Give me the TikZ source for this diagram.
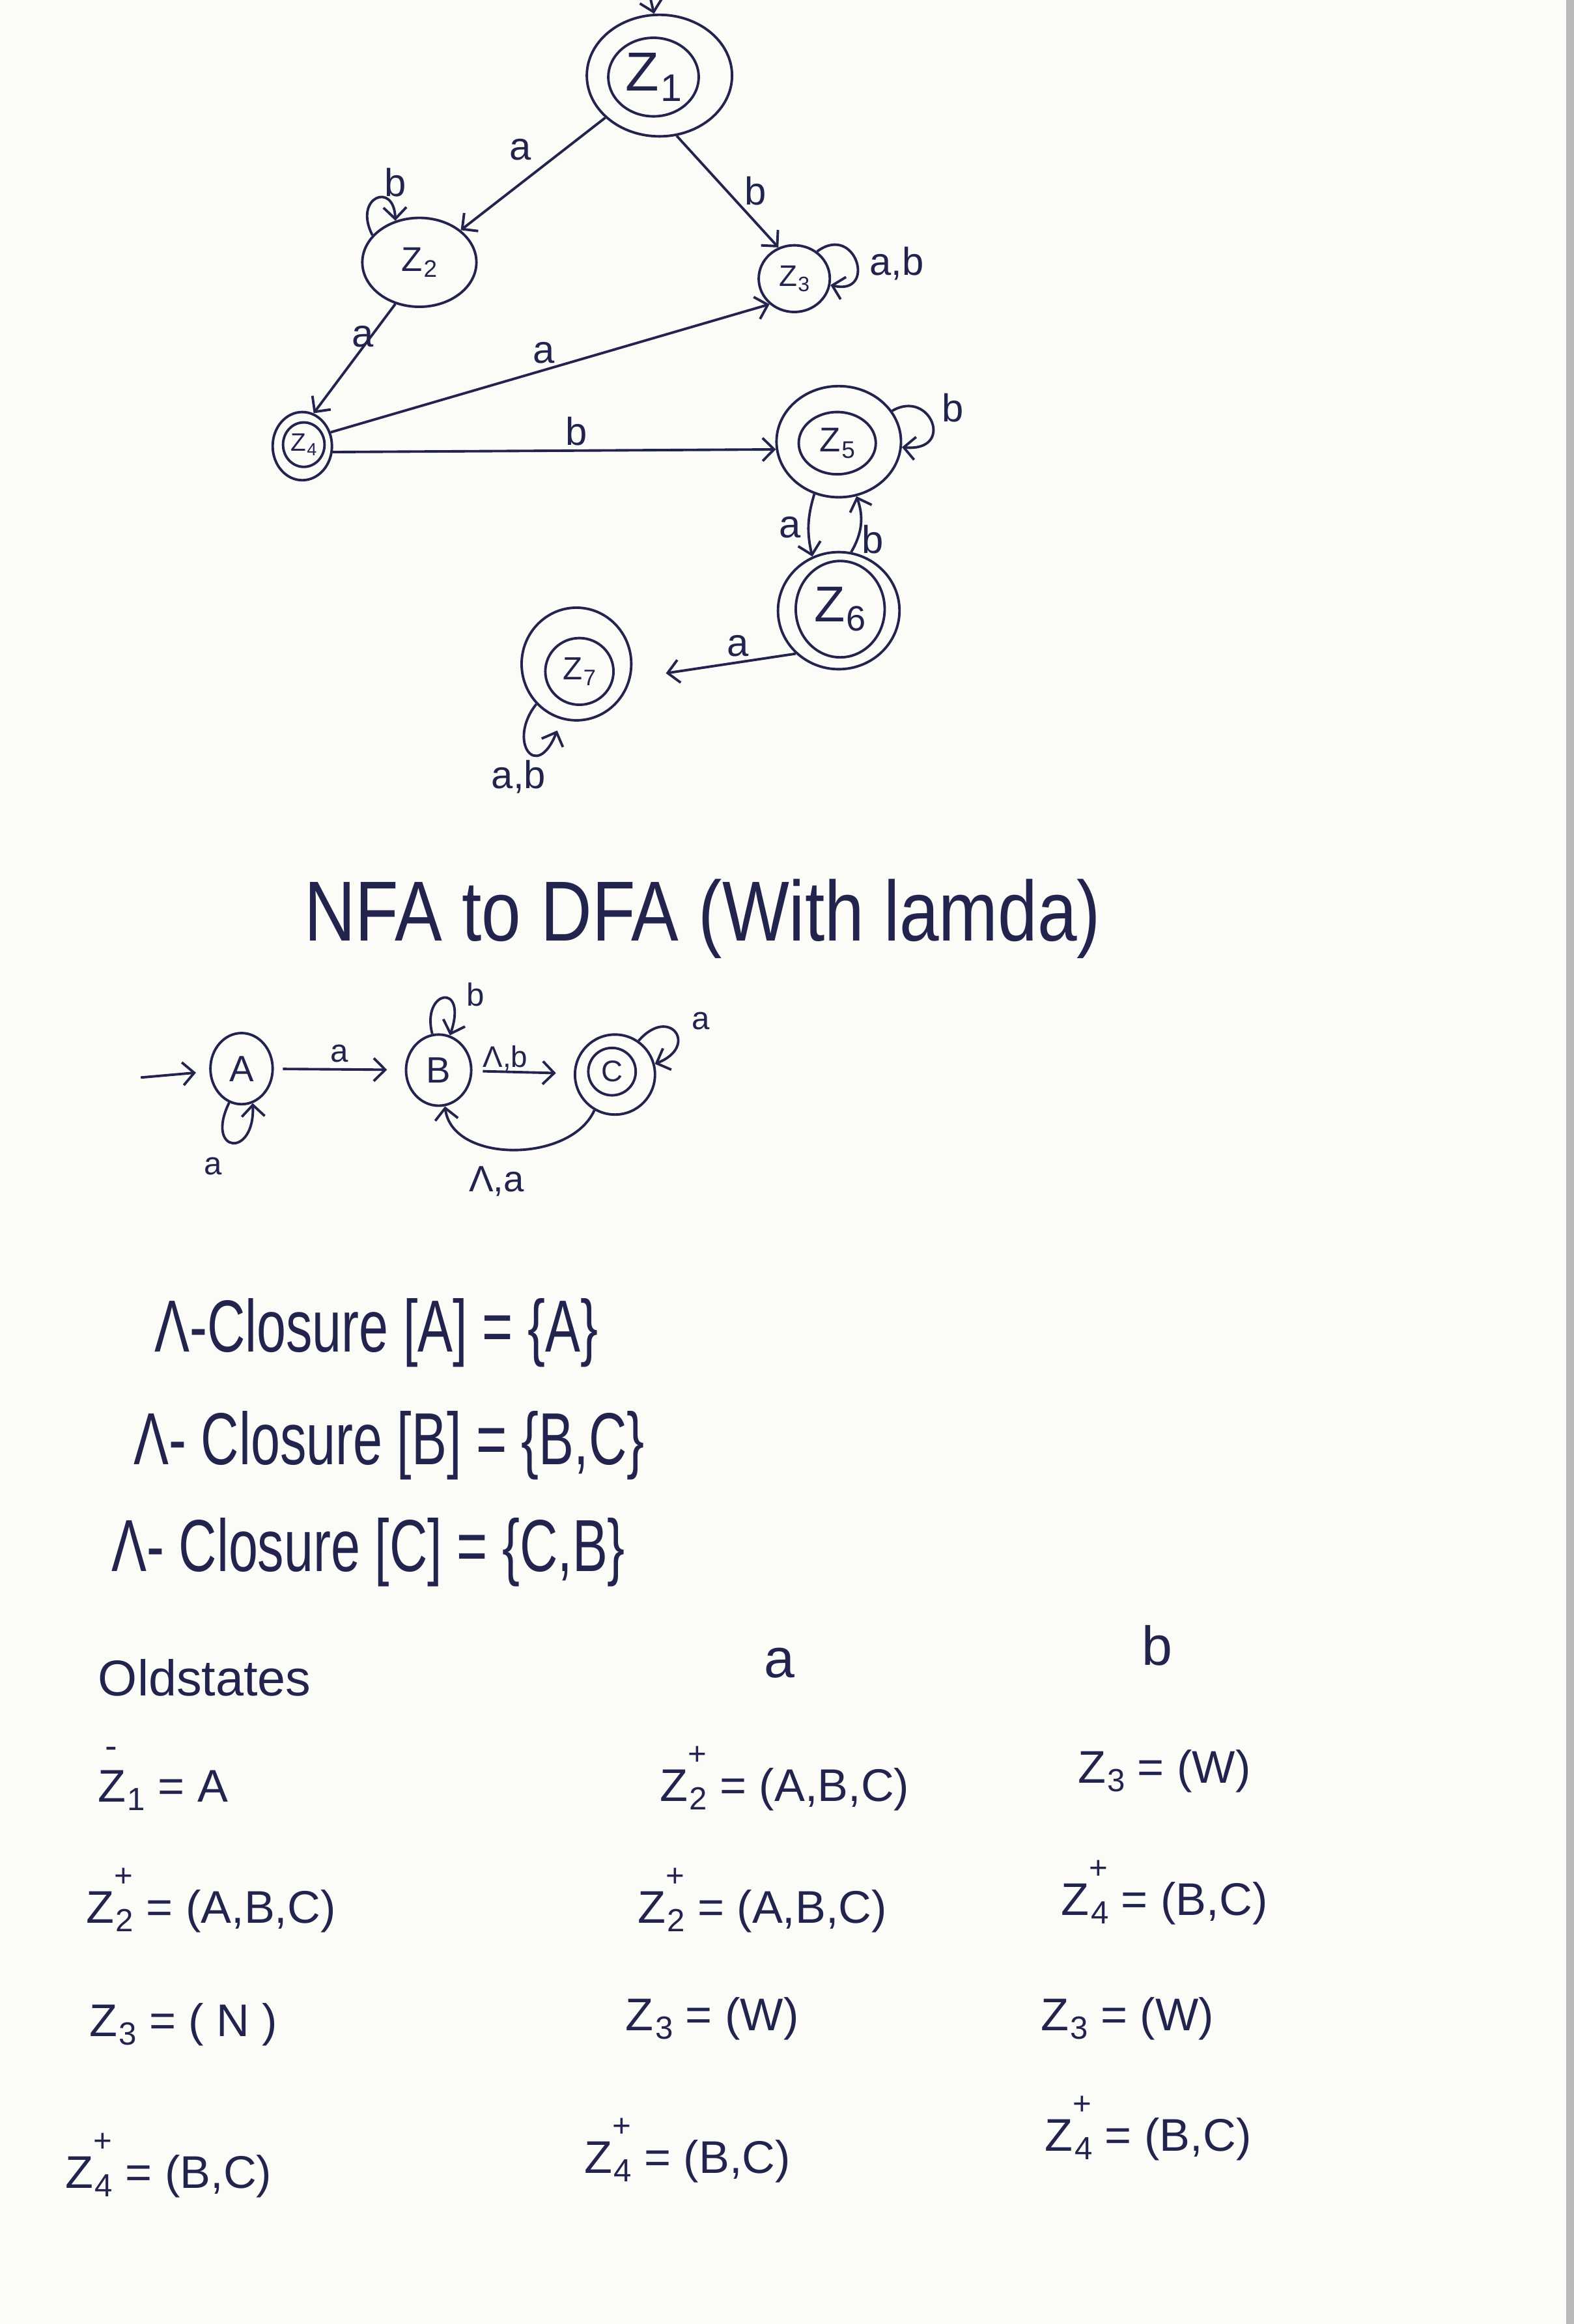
\documentclass[tikz,border=0pt]{standalone}
\usepackage{fontspec}
\setmainfont{Liberation Sans}
\usepackage{graphicx}
\usetikzlibrary{shapes.geometric,arrows.meta,calc}
\definecolor{ink}{RGB}{34,36,78}
\definecolor{paper}{RGB}{251,251,248}
\def\U{0.02275cm}
\newcommand\myfs[1]{\fontsize{#1}{#1}\selectfont}
\newcommand\zz[1]{Z\kern.03em\raisebox{-.35ex}{\scalebox{0.7}{#1}}}
\newcommand\zp[1]{Z\rlap{\raisebox{0.8em}{\scalebox{0.7}{+}}}\kern.03em\raisebox{-.35ex}{\scalebox{0.7}{#1}}}
\newcommand\zm[1]{\rlap{\kern0.15em\raisebox{0.95em}{\scalebox{0.8}{-}}}Z\kern.03em\raisebox{-.35ex}{\scalebox{0.7}{#1}}}
\newcommand\tallr[2]{\scalebox{1}[#1]{#2}}
\begin{document}
\begin{tikzpicture}[x=\U,y=-\U,
  st/.style 2 args={ellipse, draw=ink, line width=1.1pt, minimum width=#1*\U, minimum height=#2*\U, inner sep=0pt, text=ink},
  arr/.style={draw=ink, line width=1.1pt, -{Straight Barb[length=5pt,width=10pt]}},
  lbl/.style={text=ink, font=\myfs{17pt}, inner sep=1pt},
  small/.style={text=ink, font=\myfs{14pt}, inner sep=1pt},
  txt/.style={text=ink, inner sep=0pt},
  tb/.style={text=ink, font=\myfs{20pt}, inner sep=0pt, anchor=west}]
\fill[paper] (0,0) rectangle (1062,1568);
\useasboundingbox (0,0) rectangle (1062,1568);
\fill[gray!55] (1057,0) rectangle (1062,1568);

% ---------- DFA ----------
\node[st={98}{82}] (Z1) at (445,51) {};
\node[st={61}{53}, font=\myfs{24pt}] (Z1i) at (441,52) {\zz{1}};
\node[st={77}{60}, font=\myfs{15pt}] (Z2) at (283,177) {\zz{2}};
\node[st={48}{45}, font=\myfs{13pt}] (Z3) at (536,188) {\zz{3}};
\node[st={40}{46}] (Z4) at (204,301) {};
\node[st={28}{30}, font=\myfs{11pt}] (Z4i) at (205,300) {\zz{4}};
\node[st={84}{75}] (Z5) at (566,298) {};
\node[st={52}{42}, font=\myfs{15pt}] (Z5i) at (565,299) {\zz{5}};
\node[st={82}{79}] (Z6) at (566,412) {};
\node[st={60}{65}, font=\myfs{22pt}] (Z6i) at (567,411) {\zz{6}};
\node[st={74}{76}] (Z7) at (389,448) {};
\node[st={46}{45}, font=\myfs{14pt}] (Z7i) at (391,453) {\zz{7}};

\coordinate (s1) at (438,-5);
\draw[arr] (s1) -- (Z1.95);
\draw[arr] (Z1) -- (Z2);
\draw[arr] (Z1.-74) -- (Z3.117);
\draw[arr] (Z2.-120) -- (Z4.71);
\draw[arr] (Z4.26) -- (Z3.-134);
\draw[arr] (Z4.-11) -- (Z5.187);
\draw[arr] (Z2.150) .. controls (238,133) and (266,122) .. (Z2.120);
\draw[arr] (Z3.50) .. controls (578,150) and (592,200) .. (Z3.-10);
\draw[arr] (Z5.30) .. controls (628,262) and (645,305) .. (Z5.-5);
\draw[arr] (Z5.-115) to[bend right=15] (Z6.116);
\draw[arr] (Z6.78) to[bend right=25] (Z5.-72);
\draw[arr, shorten >=24*\U] (Z6.-135) -- (Z7.-15);
\draw[arr, shorten >=8*\U] (Z7.225) .. controls (342,500) and (362,528) .. (Z7.-105);

\node[lbl] (l12) at (351,101) {a};
\node[lbl] (l13) at (510,129) {b};
\node[lbl] (l22) at (267,123) {b};
\node[lbl] (l33) at (605,178) {a,b};
\node[lbl] (l24) at (245,227) {a};
\node[lbl] (l43) at (367,238) {a};
\node[lbl] (l45) at (389,291) {b};
\node[lbl] (l55) at (643,275) {b};
\node[lbl] (l56) at (533,356) {a};
\node[lbl] (l65) at (589,364) {b};
\node[lbl] (l67) at (498,436) {a};
\node[lbl] (l77) at (350,524) {a,b};

% ---------- title ----------
\node[txt, anchor=west, font=\myfs{31pt}] (title) at (205,620) {\tallr{1.2}{NFA to DFA (With lamda)}};

% ---------- NFA ----------
\node[st={42}{48}, font=\myfs{16pt}] (A) at (163,721) {A};
\node[st={44}{48}, font=\myfs{16pt}] (B) at (296,722) {B};
\node[st={54}{54}] (C) at (415,725) {};
\node[st={32}{32}, font=\myfs{13pt}] (Ci) at (413,723) {C};
\coordinate (s2) at (95,727);
\draw[arr, shorten >=9*\U] (s2) -- (A);
\draw[arr, shorten <=6*\U, shorten >=12*\U] (A) -- (B);
\draw[arr, shorten <=7*\U, shorten >=12*\U] (B) -- (C);
\draw[arr] (A.-110) .. controls (138,778) and (172,782) .. (A.-72);
\draw[arr] (B.100) .. controls (284,668) and (316,662) .. (B.72);
\draw[arr] (C.55) .. controls (452,678) and (472,706) .. (C.15);
\draw[arr] (C.-120) .. controls (385,785) and (305,785) .. (B.-80);
\node[small] (lab) at (229,711) {a};
\node[small, font=\myfs{13pt}] (lbc) at (341,714) {Λ,b};
\node[small] (laa) at (144,787) {a};
\node[small] (lbb) at (321,671) {b};
\node[small] (lcc) at (473,689) {a};
\node[small, font=\myfs{16pt}] (lcb) at (335,797) {Λ,a};

% ---------- closures ----------
\node[txt, anchor=base west, font=\myfs{23pt}] (cl1) at (104,912) {\tallr{1.4}{Λ-Closure [A] = \{A\}}};
\node[txt, anchor=base west, font=\myfs{23pt}] (cl2) at (90,988) {\tallr{1.4}{Λ- Closure [B] = \{B,C\}}};
\node[txt, anchor=base west, font=\myfs{23pt}] (cl3) at (75,1060) {\tallr{1.4}{Λ- Closure [C] = \{C,B\}}};

% ---------- table ----------
\node[tb, font=\myfs{22pt}] (h0) at (66,1132) {Oldstates};
\node[tb, anchor=center, font=\myfs{24pt}] (ha) at (526,1122) {a};
\node[tb, anchor=center, font=\myfs{24pt}] (hb) at (781,1110) {b};

\node[tb] (r1c1) at (66,1200) {\zm{1} = A};
\node[tb] (r1c2) at (445,1200) {\zp{2} = (A,B,C)};
\node[tb] (r1c3) at (727,1195) {\zz{3} = (W)};

\node[tb] (r2c1) at (58,1282) {\zp{2} = (A,B,C)};
\node[tb] (r2c2) at (430,1282) {\zp{2} = (A,B,C)};
\node[tb] (r2c3) at (716,1277) {\zp{4} = (B,C)};

\node[tb] (r3c1) at (60,1366) {\zz{3} = ( N )};
\node[tb] (r3c2) at (422,1362) {\zz{3} = (W)};
\node[tb] (r3c3) at (702,1362) {\zz{3} = (W)};

\node[tb] (r4c1) at (44,1461) {\zp{4} = (B,C)};
\node[tb] (r4c2) at (394,1451) {\zp{4} = (B,C)};
\node[tb] (r4c3) at (705,1436) {\zp{4} = (B,C)};
\end{tikzpicture}
\end{document}
